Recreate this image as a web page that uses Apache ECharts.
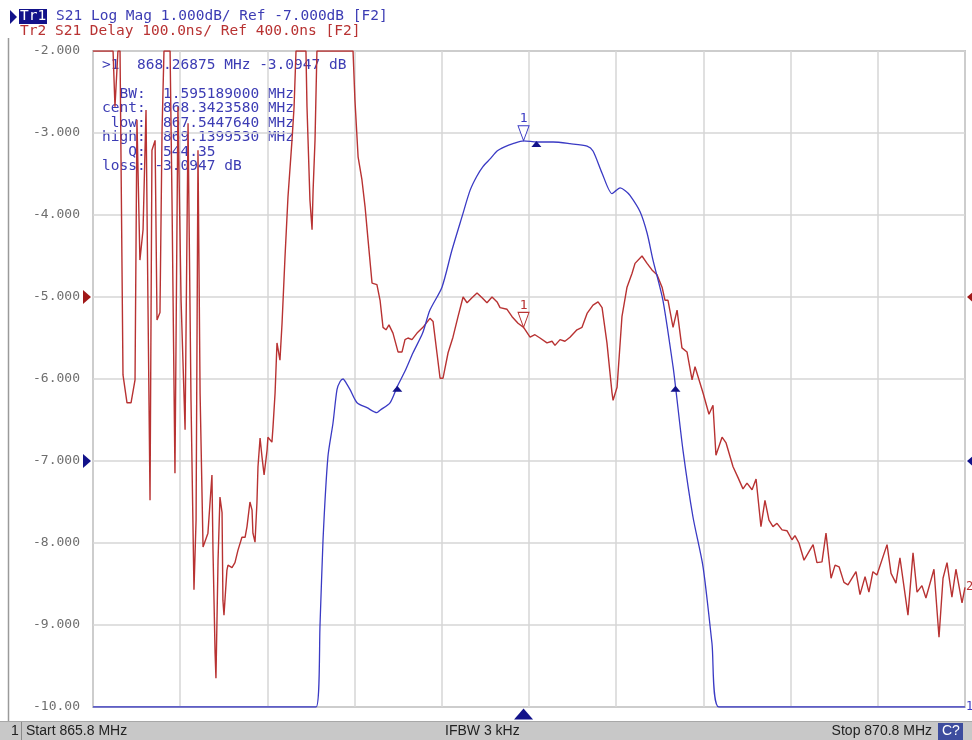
<!DOCTYPE html>
<html><head><meta charset="utf-8">
<script src="https://cdn.jsdelivr.net/npm/echarts@6/dist/echarts.min.js"></script>
<style>html,body{margin:0;padding:0;background:#fff}#c{width:972px;height:740px}</style>
</head><body><div id="c"></div>
<script>
// ---- axis definitions ----
const startMHz = 865.8, stopMHz = 870.8, freqStep = 0.5;
const magMin = -10, magMax = -2, magStep = 1;
const delayMin = -100, delayMax = 700, delayStep = 100;
const magTickLabels = ['-10.00','-9.000','-8.000','-7.000','-6.000','-5.000','-4.000','-3.000','-2.000'];
const magRef = -7, delayRef = 400;

// ---- trace 1: S21 Log Mag (MHz, dB) ----
const magFreq = [865.8,867.079,867.102,867.119,867.147,867.176,867.199,867.217,867.234,867.252,867.274,867.314,867.371,867.428,867.446,867.503,867.545,867.590,867.635,867.690,867.732,867.801,867.858,867.916,867.962,868.000,868.036,868.080,868.117,868.160,868.208,868.269,868.346,868.438,868.535,868.633,868.667,868.719,868.776,868.800,868.822,868.850,868.879,868.937,868.977,869.011,869.068,869.126,869.140,869.183,869.240,869.298,869.349,869.389,870.8];
const magDb = [-10,-10,-8.98,-7.96,-6.95,-6.54,-6.13,-6.03,-6.00,-6.05,-6.13,-6.29,-6.35,-6.41,-6.38,-6.29,-6.09,-5.90,-5.68,-5.44,-5.16,-4.88,-4.43,-4.02,-3.70,-3.53,-3.41,-3.31,-3.22,-3.17,-3.13,-3.095,-3.11,-3.11,-3.13,-3.16,-3.22,-3.49,-3.74,-3.70,-3.67,-3.70,-3.76,-3.96,-4.22,-4.55,-5.04,-5.85,-6.09,-6.87,-7.68,-8.29,-9.22,-10,-10];

// ---- trace 2: S21 Delay (MHz, ns) ----
const delayFreq = [865.800,865.823,865.846,865.869,865.892,865.915,865.926,865.943,865.955,865.972,865.995,866.018,866.041,866.052,866.069,866.087,866.104,866.115,866.127,866.138,866.156,866.167,866.184,866.196,866.207,866.224,866.242,866.253,866.270,866.287,866.305,866.328,866.345,866.362,866.379,866.391,866.402,866.414,866.431,866.459,866.482,866.488,866.500,866.505,866.517,866.528,866.540,866.545,866.551,866.568,866.574,866.597,866.614,866.631,866.654,866.672,866.683,866.700,866.712,866.717,866.729,866.740,866.746,866.758,866.769,866.781,866.798,866.803,866.826,866.832,866.844,866.855,866.872,866.884,866.901,866.918,866.941,866.953,866.964,866.993,867.021,867.027,867.044,867.056,867.062,867.073,867.084,867.130,867.188,867.245,867.291,867.302,867.320,867.342,867.360,867.377,867.400,867.428,867.446,867.463,867.480,867.497,867.520,867.549,867.572,867.589,867.606,867.629,867.658,867.692,867.732,867.750,867.772,867.790,867.807,867.836,867.864,867.893,867.922,867.945,867.973,868.002,868.031,868.059,868.088,868.117,868.134,868.174,868.203,868.237,868.269,868.306,868.334,868.363,868.403,868.432,868.449,868.478,868.506,868.535,868.575,868.604,868.633,868.667,868.696,868.719,868.747,868.776,868.782,868.805,868.833,868.862,868.891,868.908,868.948,868.977,869.005,869.034,869.063,869.080,869.097,869.126,869.149,869.177,869.206,869.235,869.252,869.298,869.332,869.355,869.372,869.407,869.430,869.470,869.498,869.527,869.550,869.579,869.602,869.630,869.653,869.676,869.699,869.722,869.751,869.779,869.808,869.825,869.848,869.877,869.929,869.951,869.980,870.003,870.032,870.055,870.078,870.106,870.129,870.175,870.198,870.227,870.249,870.272,870.295,870.353,870.376,870.404,870.427,870.473,870.502,870.525,870.553,870.576,870.622,870.651,870.674,870.697,870.725,870.748,870.783,870.800];
const delayNs = [700,700,700,700,700,700,632,700,700,305,271,271,299,616,445,482,628,396,152,579,591,372,381,604,700,700,700,518,185,632,396,238,612,274,43,128,579,283,95,112,183,91,-34,-65,79,156,137,30,12,67,73,70,76,91,107,107,120,150,140,112,101,149,193,228,205,183,213,229,223,241,283,344,323,368,449,522,591,632,700,700,700,632,518,482,530,591,700,700,700,700,700,640,571,543,510,470,417,415,396,363,360,366,356,333,333,348,350,348,356,363,374,370,332,301,301,332,351,376,400,393,399,405,399,393,400,394,387,385,376,368,363,351,354,350,344,346,341,348,346,351,360,363,380,390,394,387,344,283,274,290,376,412,429,441,450,441,433,427,412,396,396,363,384,338,333,299,315,283,257,268,207,229,222,193,180,166,173,165,178,120,152,128,120,124,116,115,104,109,100,79,98,76,77,112,57,73,71,52,49,65,37,59,40,65,61,98,63,51,82,12,88,40,48,33,68,-15,57,76,34,68,27,46];

// ---- markers ----
const markerFreq = 868.26875, markerMag = -3.0947, markerDelay = 363;
const bwLowFreq = 867.5447640, bwCentFreq = 868.3423580, bwHighFreq = 869.1399530;
const bwLevel = -6.0947, bwCentMag = -3.11;

// ---- texts ----
const header1 = 'S21 Log Mag 1.000dB/ Ref -7.000dB [F2]';
const header2 = 'Tr2 S21 Delay 100.0ns/ Ref 400.0ns [F2]';
const readout = [
  '>1  868.26875 MHz -3.0947 dB',
  '',
  '  BW:  1.595189000 MHz',
  'cent:  868.3423580 MHz',
  ' low:  867.5447640 MHz',
  'high:  869.1399530 MHz',
  '   Q:  544.35',
  'loss: -3.0947 dB'
];
const statusLeft = 'Start 865.8 MHz', statusMid = 'IFBW 3 kHz', statusRight = 'Stop 870.8 MHz';

const BLUE = '#3a3ac4', RED = '#b83232', NAVY = '#12128a', TXT = '#3c3cb4';
const MONO = "'DejaVu Sans Mono', monospace";
const NARROW = "'Liberation Sans Narrow', 'Liberation Sans', sans-serif";

const zip = (a, b) => a.slice(0, Math.min(a.length, b.length)).map((v, i) => [v, b[i]]);

const chart = echarts.init(document.getElementById('c'), null, {renderer: 'canvas'});

const option = {
  animation: false,
  backgroundColor: '#fff',
  grid: {left: 93, right: 7, top: 51, bottom: 33, show: true, borderColor: '#9c9c9c', borderWidth: 1.5, backgroundColor: 'transparent'},
  xAxis: {
    type: 'value', min: startMHz, max: stopMHz, interval: freqStep,
    axisLine: {show: false}, axisTick: {show: false}, axisLabel: {show: false},
    splitLine: {show: true, lineStyle: {color: '#d6d6d6', width: 1.5}}
  },
  yAxis: [{
    type: 'value', min: magMin, max: magMax, interval: magStep,
    axisLine: {show: false}, axisTick: {show: false},
    axisLabel: {margin: 13, color: '#6e6e6e', fontFamily: MONO, fontSize: 13,
      formatter: v => magTickLabels[Math.round((v - magMin) / magStep)]},
    splitLine: {show: true, lineStyle: {color: '#d6d6d6', width: 1.5}}
  }, {
    type: 'value', min: delayMin, max: delayMax, interval: delayStep, show: false,
    splitLine: {show: false}
  }],
  series: [{
    name: 'Tr2 S21 Delay', type: 'line', yAxisIndex: 1, data: zip(delayFreq, delayNs),
    showSymbol: false, symbol: 'none', lineStyle: {color: RED, width: 1.4}, itemStyle: {color: RED},
    endLabel: {show: true, formatter: '2', color: RED, fontFamily: MONO, fontSize: 12, distance: 1},
    markPoint: {
      symbol: 'path://M0,0L10,0L5,12Z', symbolSize: [11, 15], symbolOffset: [0, '-50%'],
      itemStyle: {color: '#fff', borderColor: RED, borderWidth: 1},
      label: {show: true, position: 'top', distance: 0, formatter: '1', color: RED, fontFamily: MONO, fontSize: 13},
      data: [{coord: [markerFreq, markerDelay]}]
    },
    z: 2
  }, {
    name: 'Tr1 S21 Log Mag', type: 'line', yAxisIndex: 0, data: zip(magFreq, magDb),
    showSymbol: false, symbol: 'none', smooth: 0.25, lineStyle: {color: BLUE, width: 1.3}, itemStyle: {color: BLUE},
    endLabel: {show: true, formatter: '1', color: BLUE, fontFamily: MONO, fontSize: 12, distance: 1},
    markPoint: {
      data: [
        {coord: [markerFreq, markerMag], symbol: 'path://M0,0L10,0L5,12Z', symbolSize: [11, 15], symbolOffset: [0, '-50%'],
          itemStyle: {color: '#fff', borderColor: BLUE, borderWidth: 1},
          label: {show: true, position: 'top', distance: 0, formatter: '1', color: BLUE, fontFamily: MONO, fontSize: 13}},
        {coord: [bwLowFreq, bwLevel], symbol: 'triangle', symbolSize: [10, 6], symbolOffset: [0, 2],
          itemStyle: {color: NAVY}, label: {show: false}},
        {coord: [bwCentFreq, bwCentMag], symbol: 'triangle', symbolSize: [10, 6], symbolOffset: [0, 2],
          itemStyle: {color: NAVY}, label: {show: false}},
        {coord: [bwHighFreq, bwLevel], symbol: 'triangle', symbolSize: [10, 6], symbolOffset: [0, 2],
          itemStyle: {color: NAVY}, label: {show: false}},
        {coord: [markerFreq, magMin], symbol: 'triangle', symbolSize: [19, 11], symbolOffset: [0, 7],
          itemStyle: {color: NAVY}, label: {show: false}}
      ]
    },
    z: 3
  }],
  graphic: []
};
chart.setOption(option);

// positions derived from the axes
const yRed = chart.convertToPixel({yAxisIndex: 1}, delayRef);
const yBlue = chart.convertToPixel({yAxisIndex: 0}, magRef);
const xL = chart.convertToPixel({xAxisIndex: 0}, startMHz);
const xR = chart.convertToPixel({xAxisIndex: 0}, stopMHz);

const tri = (id, pts, fill) => ({type: 'polygon', id, shape: {points: pts}, style: {fill}, z: 100});
const graphics = [
  {type: 'line', id: 'frameL', shape: {x1: 8.5, y1: 38, x2: 8.5, y2: 722}, style: {stroke: '#9a9a9a', lineWidth: 1.5}},
  // left ref arrows
  tri('lRed', [[xL - 10, yRed - 7], [xL - 2, yRed], [xL - 10, yRed + 7]], '#a01818'),
  tri('lBlue', [[xL - 10, yBlue - 7], [xL - 2, yBlue], [xL - 10, yBlue + 7]], NAVY),
  // right ref arrows
  tri('rRed', [[xR + 10, yRed - 7], [xR + 2, yRed], [xR + 10, yRed + 7]], '#a01818'),
  tri('rBlue', [[xR + 10, yBlue - 7], [xR + 2, yBlue], [xR + 10, yBlue + 7]], NAVY),
  // header
  tri('hArrow', [[10, 10], [17, 17], [10, 24]], NAVY),
  {type: 'rect', id: 'trBox', shape: {x: 19, y: 9, width: 28, height: 15}, style: {fill: NAVY}},
  {type: 'text', id: 'trTxt', left: 20, top: 9, style: {text: 'Tr1', fill: '#fff', font: '14.5px ' + MONO}},
  {type: 'text', id: 'h1', left: 56, top: 9, style: {text: header1, fill: TXT, font: '14.5px ' + MONO}},
  {type: 'text', id: 'h2', left: 20, top: 24, style: {text: header2, fill: RED, font: '14.5px ' + MONO}},
  // readout
  {type: 'text', id: 'ro', left: 102, top: 58, style: {text: readout.join('\n'), fill: TXT, font: '14.5px ' + MONO, lineHeight: 14.4}},
  // status bar
  {type: 'rect', id: 'sb', shape: {x: 0, y: 721, width: 972, height: 19}, style: {fill: '#c8c8c8'}},
  {type: 'line', id: 'sbl', shape: {x1: 0, y1: 721.5, x2: 972, y2: 721.5}, style: {stroke: '#a8a8a8', lineWidth: 1}},
  {type: 'line', id: 'sbs', shape: {x1: 21.5, y1: 722, x2: 21.5, y2: 740}, style: {stroke: '#8a8a8a', lineWidth: 1}},
  {type: 'text', id: 's0', left: 11, top: 724, style: {text: '1', fill: '#222', font: '14px ' + NARROW}},
  {type: 'text', id: 's1', left: 26, top: 724, style: {text: statusLeft, fill: '#222', font: '14px ' + NARROW}},
  {type: 'text', id: 's2', left: 445, top: 724, style: {text: statusMid, fill: '#222', font: '14px ' + NARROW}},
  {type: 'text', id: 's3', right: 40, top: 724, style: {text: statusRight, fill: '#222', font: '14px ' + NARROW}},
  {type: 'rect', id: 'cb', shape: {x: 938, y: 723, width: 25, height: 17}, style: {fill: '#3d4c9e'}},
  {type: 'text', id: 'cq', left: 942, top: 724, style: {text: 'C?', fill: '#fff', font: '14px ' + NARROW}}
];
chart.setOption({graphic: graphics});
</script>
</body></html>
